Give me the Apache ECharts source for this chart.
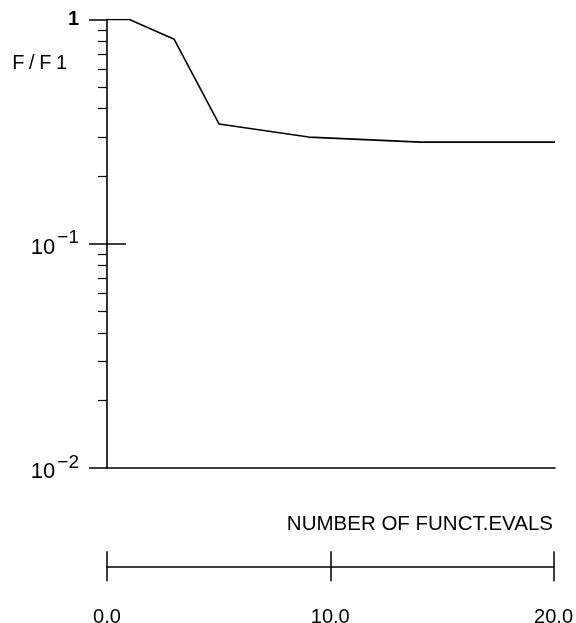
<!DOCTYPE html>
<html>
<head>
<meta charset="utf-8">
<script src="https://cdn.jsdelivr.net/npm/echarts@6/dist/echarts.min.js"></script>
<style>html,body{margin:0;padding:0;background:#fff}#c{width:576px;height:623px}</style>
</head>
<body>
<div id="c"></div>
<script>
// Data
var evals = [0, 1, 3, 5, 9, 14, 20];
var ratio = [1, 1, 0.816, 0.342, 0.299, 0.284, 0.284];
var yMajorTicks = [0.01, 0.1, 1];
var yMinorTicks = [0.02,0.03,0.04,0.05,0.06,0.07,0.08,0.09,0.2,0.3,0.4,0.5,0.6,0.7,0.8,0.9];
var xTickLabels = ['0.0', '10.0', '20.0'];
var yTitle = 'F/F1';
var xTitle = 'NUMBER OF FUNCT.EVALS';

var FONT = "'Liberation Sans', Arial, sans-serif";
var lineData = evals.map(function (x, i) { return [x, ratio[i]]; });

var chart = echarts.init(document.getElementById('c'), null, {renderer: 'canvas'});
var option = {
  animation: false,
  backgroundColor: '#fff',
  textStyle: {fontFamily: FONT, color: '#000'},
  title: [
    {
      text: yTitle.split('').map(function (ch) { return '{a|' + ch + '}'; }).join(''),
      left: 10, top: 53, padding: 0,
      textStyle: {fontWeight: 'normal', rich: {a: {fontFamily: FONT, fontSize: 20, fontWeight: 'normal', color: '#000', padding: [0, 2.3, 0, 2.3]}}}
    },
    {
      text: xTitle, right: 23, top: 514, padding: 0,
      textStyle: {fontFamily: FONT, fontSize: 20.5, fontWeight: 'normal', color: '#000'}
    }
  ],
  grid: [
    {left: 107, right: 21, top: 19.5, height: 448.5, containLabel: false},
    {left: 107, right: 19, top: 566, height: 1, containLabel: false}
  ],
  xAxis: [
    {
      gridIndex: 0, type: 'value', min: 0, max: 20, position: 'bottom',
      axisLine: {show: true, onZero: false, lineStyle: {color: '#000', width: 1.5}},
      axisTick: {show: false}, axisLabel: {show: false}, splitLine: {show: false}
    },
    {
      gridIndex: 1, type: 'value', min: 0, max: 20, interval: 10, position: 'bottom',
      axisLine: {show: true, onZero: false, lineStyle: {color: '#000', width: 1.5}},
      axisTick: {show: true, length: 15, lineStyle: {color: '#000', width: 1.5}},
      axisLabel: {
        show: true, margin: 41, fontFamily: FONT, fontSize: 20, color: '#000',
        formatter: function (v) { return xTickLabels[Math.round(v / 10)]; }
      },
      splitLine: {show: false}
    },
    {
      gridIndex: 1, type: 'value', min: 0, max: 20, interval: 10, position: 'bottom',
      axisLine: {show: false},
      axisTick: {show: true, inside: true, length: 15, lineStyle: {color: '#000', width: 1.5}},
      axisLabel: {show: false}, splitLine: {show: false}
    }
  ],
  yAxis: [
    {
      gridIndex: 0, type: 'log', logBase: 10, min: 0.01, max: 1, interval: 1, position: 'left',
      axisLine: {show: true, onZero: false, lineStyle: {color: '#000', width: 1.6}},
      axisTick: {show: true, length: 18, customValues: yMajorTicks, lineStyle: {color: '#000', width: 1.5}},
      axisLabel: {
        show: true, margin: 28, customValues: yMajorTicks,
        formatter: function (v) {
          if (Math.abs(v - 1) < 1e-9) return '{n|1}';
          var e = Math.round(Math.log10(v));
          return '{b|10}{s|\u2212' + Math.abs(e) + '}';
        },
        rich: {
          n: {fontFamily: FONT, fontSize: 20, fontWeight: 'bold', color: '#000'},
          b: {fontFamily: FONT, fontSize: 22, color: '#000', lineHeight: 30, verticalAlign: 'bottom'},
          s: {fontFamily: FONT, fontSize: 19, color: '#000', lineHeight: 18, verticalAlign: 'top', padding: [0, 0, 16, 2]}
        }
      },
      splitLine: {show: false}
    },
    {
      gridIndex: 0, type: 'log', logBase: 10, min: 0.01, max: 1, position: 'left',
      axisLine: {show: false},
      axisTick: {show: true, length: 9, customValues: yMinorTicks, lineStyle: {color: '#000', width: 1.2}},
      axisLabel: {show: false}, splitLine: {show: false}
    },
    {
      gridIndex: 0, type: 'log', logBase: 10, min: 0.01, max: 1, position: 'left',
      axisLine: {show: false},
      axisTick: {show: true, inside: true, length: 19, customValues: [0.1], lineStyle: {color: '#000', width: 1.5}},
      axisLabel: {show: false}, splitLine: {show: false}
    },
    {gridIndex: 1, type: 'value', min: 0, max: 1, show: false}
  ],
  series: [
    {
      type: 'line', xAxisIndex: 0, yAxisIndex: 0, data: lineData,
      symbol: 'none', lineStyle: {color: '#000', width: 1.6}, silent: true
    }
  ]
};
chart.setOption(option);
</script>
</body>
</html>
